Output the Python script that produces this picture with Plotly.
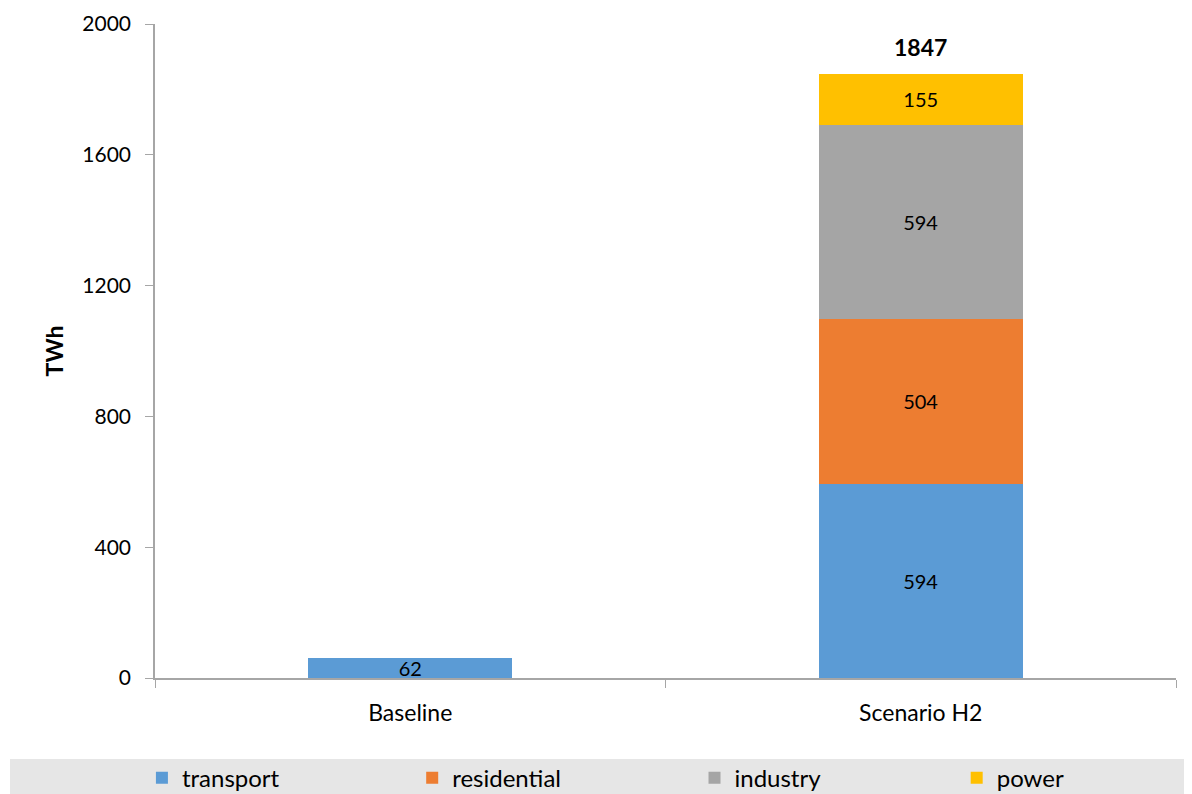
import plotly.graph_objects as go

categories = ["Baseline", "Scenario H2"]
series_names = ["transport", "residential", "industry", "power"]
transport = [62, 594]
residential = [None, 504]
industry = [None, 594]
power = [None, 155]
totals = [None, 1847]
colors = ["#5B9BD5", "#ED7D31", "#A5A5A5", "#FFC000"]
y_ticks = [0, 400, 800, 1200, 1600, 2000]

FONT = "Lato, 'Open Sans', sans-serif"
legend_ids = ["legend", "legend2", "legend3", "legend4"]
legend_x = [-0.0128, 0.2519, 0.5284, 0.7852]

fig = go.Figure()
for name, vals, col, lid in zip(series_names, [transport, residential, industry, power], colors, legend_ids):
    fig.add_trace(go.Bar(
        x=categories, y=vals, name=name, marker=dict(color=col, line=dict(width=0)),
        width=0.4, text=[("" if v is None else str(v)) for v in vals],
        textposition="inside", insidetextanchor="middle", constraintext="none", textangle=0,
        textfont=dict(color="#000000", size=20, family=FONT), legend=lid,
    ))

for c, t in zip(categories, totals):
    if t is not None:
        fig.add_annotation(x=c, y=t, text=f"<b>{t}</b>", showarrow=False, yanchor="bottom",
                           yshift=11, font=dict(size=23, color="#000000", family=FONT))

# legend band
fig.add_shape(type="rect", xref="paper", yref="paper", x0=-0.142, x1=1.03, y0=-0.19, y1=-0.124,
              fillcolor="#E6E6E6", line=dict(width=0), layer="below")

leg_common = dict(orientation="h", xanchor="left", y=-0.153, yanchor="middle",
                  bgcolor="rgba(0,0,0,0)", font=dict(size=24, family=FONT))
legends = {}
for lid, lx in zip(legend_ids, legend_x):
    legends[lid] = dict(x=lx, **leg_common)

# page body has an 8px margin, so figure is 8px smaller and margins reduced by 8
fig.update_layout(
    width=1184, height=786, barmode="stack", bargap=0.6,
    plot_bgcolor="white", paper_bgcolor="white",
    margin=dict(l=147, r=16, t=16, b=116, autoexpand=False),
    font=dict(family=FONT, size=20, color="#000000"),
    showlegend=True,
    xaxis=dict(showline=True, linecolor="#A6A6A6", linewidth=1.5, ticks="outside",
               tickson="boundaries", ticklen=8, tickcolor="#A6A6A6", showgrid=False,
               tickfont=dict(size=23, family=FONT), ticklabelstandoff=14),
    yaxis=dict(range=[0, 2000], tickvals=y_ticks, showline=True, linecolor="#A6A6A6", linewidth=1.5,
               ticks="outside", ticklen=8, tickcolor="#A6A6A6", showgrid=False, zeroline=False,
               tickfont=dict(size=21, family=FONT), ticklabelstandoff=10,
               title=dict(text="<b>TWh</b>", font=dict(size=23, family=FONT), standoff=12)),
    **legends,
)

fig.write_html("out.html")
